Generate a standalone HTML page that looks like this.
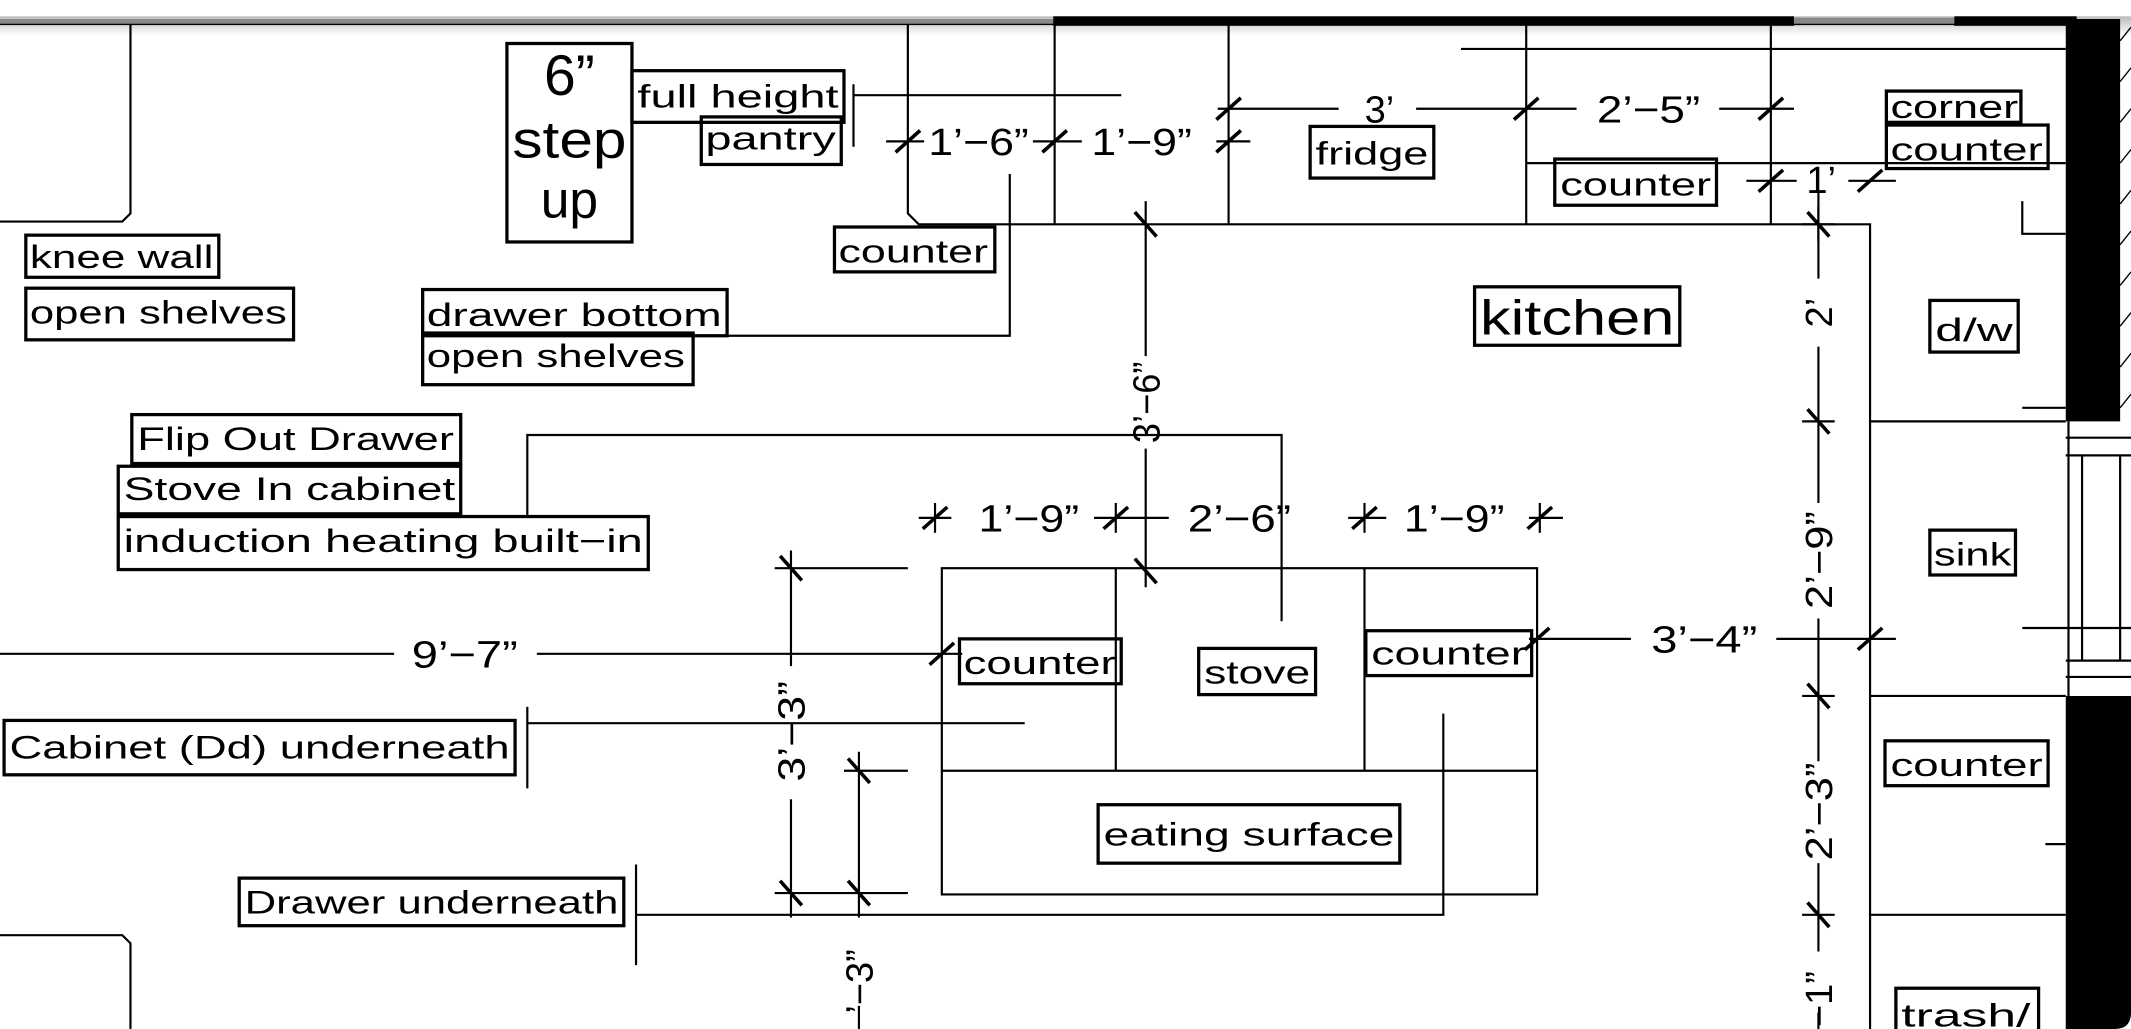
<!DOCTYPE html>
<html><head><meta charset="utf-8"><style>
html,body{margin:0;padding:0;background:#fff;overflow:hidden}
svg{display:block}
text{font-family:"Liberation Sans",sans-serif;fill:#000}
</style></head><body>
<svg width="2131" height="1029" viewBox="0 0 1568 757" preserveAspectRatio="none" font-size="24">
<defs><linearGradient id="g" x1="0" y1="0" x2="0" y2="1"><stop offset="0" stop-color="#bbb"/><stop offset="1" stop-color="#fff"/></linearGradient></defs>
<rect x="0" y="0" width="1568" height="757" fill="#fff"/>
<rect x="0" y="12" width="1568" height="14" fill="url(#g)"/>
<rect x="0" y="14" width="776" height="4" fill="#888"/>
<rect x="775" y="12" width="545" height="7" fill="#000"/>
<rect x="1320" y="13" width="118" height="5" fill="#888"/>
<rect x="1438" y="12" width="90" height="7" fill="#000"/>
<g stroke="#000" stroke-width="1.6" fill="none">
<line x1="0" y1="18" x2="1520" y2="18" stroke-width="1"/>
<rect x="1520" y="14" width="40" height="296" fill="#000" stroke="none"/>
<path d="M1520 512 H1568 V745 Q1568 757 1556 757 H1520 Z" fill="#000" stroke="none"/>
<g stroke-width="1">
<line x1="1560" y1="30" x2="1568" y2="20"/><line x1="1560" y1="60" x2="1568" y2="50"/><line x1="1560" y1="90" x2="1568" y2="80"/><line x1="1560" y1="120" x2="1568" y2="110"/><line x1="1560" y1="150" x2="1568" y2="140"/><line x1="1560" y1="180" x2="1568" y2="170"/><line x1="1560" y1="210" x2="1568" y2="200"/><line x1="1560" y1="240" x2="1568" y2="230"/><line x1="1560" y1="270" x2="1568" y2="260"/><line x1="1560" y1="300" x2="1568" y2="290"/>
</g>
<line x1="1522" y1="310" x2="1522" y2="512"/>
<line x1="1520" y1="322" x2="1568" y2="322"/><line x1="1520" y1="335" x2="1568" y2="335"/>
<line x1="1520" y1="486" x2="1568" y2="486"/><line x1="1520" y1="498" x2="1568" y2="498"/>
<line x1="1532" y1="335" x2="1532" y2="486"/><line x1="1560" y1="335" x2="1560" y2="486"/>
<path d="M0 163 H90 L96 157 V18"/>
<path d="M0 688 H90 L96 694 V757"/>
<path d="M668 18 V157 L676 165 H1376 V757"/>
<line x1="776" y1="18" x2="776" y2="165"/>
<line x1="904" y1="18" x2="904" y2="165"/>
<line x1="1123" y1="18" x2="1123" y2="165"/>
<line x1="1303" y1="18" x2="1303" y2="165"/>
<line x1="1075" y1="36" x2="1520" y2="36"/>
<line x1="1123" y1="120" x2="1520" y2="120"/>
<path d="M1488 148 V172 H1520"/>
<line x1="1376" y1="310" x2="1520" y2="310"/>
<line x1="1376" y1="512" x2="1520" y2="512"/>
<line x1="1376" y1="673" x2="1520" y2="673"/>
<line x1="1488" y1="300" x2="1520" y2="300"/>
<line x1="1488" y1="462" x2="1568" y2="462"/>
<line x1="1505" y1="621" x2="1520" y2="621"/>
<line x1="628" y1="70" x2="825" y2="70"/>
<line x1="628" y1="62" x2="628" y2="108"/>
<line x1="896" y1="80" x2="985" y2="80"/><line x1="1042" y1="80" x2="1160" y2="80"/><line x1="1265" y1="80" x2="1320" y2="80"/>
<line x1="652" y1="104" x2="680" y2="104"/><line x1="760" y1="104" x2="796" y2="104"/><line x1="895" y1="104" x2="920" y2="104"/>
<line x1="1285" y1="133" x2="1322" y2="133"/><line x1="1360" y1="133" x2="1395" y2="133"/>
<path d="M535 247 H743 V128"/>
<line x1="843" y1="148" x2="843" y2="262"/><line x1="843" y1="330" x2="843" y2="432"/>
<path d="M388 380 V320 H943 V457"/>
<rect x="693" y="418" width="438" height="240"/>
<line x1="821" y1="418" x2="821" y2="567"/>
<line x1="1004" y1="418" x2="1004" y2="567"/>
<line x1="693" y1="567" x2="1131" y2="567"/>
<line x1="676" y1="381" x2="700" y2="381"/><line x1="805" y1="381" x2="860" y2="381"/><line x1="992" y1="381" x2="1020" y2="381"/><line x1="1125" y1="381" x2="1150" y2="381"/>
<line x1="0" y1="481" x2="290" y2="481"/><line x1="395" y1="481" x2="708" y2="481"/>
<line x1="1125" y1="470" x2="1200" y2="470"/><line x1="1307" y1="470" x2="1395" y2="470"/>
<line x1="1338" y1="140" x2="1338" y2="205"/><line x1="1338" y1="255" x2="1338" y2="370"/><line x1="1338" y1="455" x2="1338" y2="560"/><line x1="1338" y1="635" x2="1338" y2="700"/><line x1="1338" y1="745" x2="1338" y2="757"/>
<line x1="570" y1="418" x2="668" y2="418"/>
<line x1="570" y1="657" x2="668" y2="657"/>
<line x1="582" y1="405" x2="582" y2="490"/><line x1="582" y1="588" x2="582" y2="675"/>
<line x1="621" y1="567" x2="668" y2="567"/>
<line x1="632" y1="553" x2="632" y2="675"/><line x1="632" y1="740" x2="632" y2="757"/>
<line x1="388" y1="520" x2="388" y2="580"/><line x1="388" y1="532" x2="754" y2="532"/>
<line x1="468" y1="636" x2="468" y2="710"/><path d="M468 673 H1062 V525"/>
</g>
<g stroke="#000" stroke-width="2.6">
<line x1="895" y1="88" x2="913" y2="72"/><line x1="1114" y1="88" x2="1132" y2="72"/><line x1="1294" y1="88" x2="1312" y2="72"/>
<line x1="659" y1="112" x2="677" y2="96"/><line x1="767" y1="112" x2="785" y2="96"/><line x1="895" y1="112" x2="913" y2="96"/>
<line x1="1294" y1="141" x2="1312" y2="125"/><line x1="1367" y1="141" x2="1385" y2="125"/>
<line x1="835" y1="156" x2="851" y2="174"/><line x1="835" y1="411" x2="851" y2="429"/>
<line x1="679" y1="389" x2="697" y2="373"/><line x1="812" y1="389" x2="830" y2="373"/><line x1="995" y1="389" x2="1013" y2="373"/><line x1="1124" y1="389" x2="1142" y2="373"/>
<line x1="684" y1="489" x2="702" y2="473"/>
<line x1="1122" y1="478" x2="1140" y2="462"/><line x1="1367" y1="478" x2="1385" y2="462"/>
<line x1="1330" y1="156" x2="1346" y2="174"/><line x1="1330" y1="301" x2="1346" y2="319"/><line x1="1330" y1="503" x2="1346" y2="521"/><line x1="1330" y1="664" x2="1346" y2="682"/>
<line x1="574" y1="409" x2="590" y2="427"/><line x1="574" y1="648" x2="590" y2="666"/>
<line x1="624" y1="558" x2="640" y2="576"/><line x1="624" y1="648" x2="640" y2="666"/>
</g>
<g stroke="#000" stroke-width="1.6">
<line x1="1338" y1="152" x2="1338" y2="178"/>
<line x1="1326" y1="165" x2="1350" y2="165"/>
<line x1="1326" y1="310" x2="1350" y2="310"/>
<line x1="1326" y1="512" x2="1350" y2="512"/>
<line x1="1326" y1="673" x2="1350" y2="673"/>
<line x1="688" y1="370" x2="688" y2="392"/>
<line x1="821" y1="370" x2="821" y2="392"/>
<line x1="1004" y1="370" x2="1004" y2="392"/>
<line x1="1133" y1="370" x2="1133" y2="392"/>
</g>
<g stroke="#000" stroke-width="2.4" fill="none">
<rect x="373" y="32" width="92" height="146"/>
<rect x="465" y="52" width="156" height="38"/>
<rect x="516" y="86" width="103" height="35"/>
<rect x="614" y="167" width="118" height="33"/>
<rect x="964" y="93" width="91" height="38"/>
<rect x="1144" y="117" width="119" height="34"/>
<rect x="1388" y="67" width="99" height="23"/>
<rect x="1388" y="92" width="119" height="32"/>
<rect x="1085" y="211" width="151" height="43"/>
<rect x="1420" y="221" width="65" height="38"/>
<rect x="1420" y="390" width="63" height="33"/>
<rect x="1387" y="545" width="120" height="33"/>
<rect x="1395" y="727" width="105" height="34"/>
<rect x="19" y="173" width="142" height="31"/>
<rect x="19" y="212" width="197" height="38"/>
<rect x="311" y="213" width="224" height="34"/>
<rect x="311" y="245" width="199" height="38"/>
<rect x="97" y="305" width="242" height="36"/>
<rect x="87" y="343" width="252" height="35"/>
<rect x="87" y="380" width="390" height="39"/>
<rect x="3" y="530" width="376" height="40"/>
<rect x="176" y="646" width="283" height="35"/>
<rect x="706" y="470" width="119" height="33"/>
<rect x="882" y="477" width="86" height="34"/>
<rect x="1005" y="464" width="122" height="33"/>
<rect x="808" y="592" width="222" height="43"/>
</g>
<text x="419" y="70" text-anchor="middle" font-size="42">6”</text>
<text x="419" y="116" text-anchor="middle" font-size="38" textLength="84" lengthAdjust="spacingAndGlyphs">step</text>
<text x="419" y="160" text-anchor="middle" font-size="38">up</text>
<text x="469" y="79" textLength="148" lengthAdjust="spacingAndGlyphs">full height</text>
<text x="519" y="110" textLength="96" lengthAdjust="spacingAndGlyphs">pantry</text>
<text x="617" y="193" textLength="110" lengthAdjust="spacingAndGlyphs">counter</text>
<text x="968" y="121" textLength="83" lengthAdjust="spacingAndGlyphs">fridge</text>
<text x="1148" y="144" textLength="111" lengthAdjust="spacingAndGlyphs">counter</text>
<text x="1391" y="87" textLength="94" lengthAdjust="spacingAndGlyphs">corner</text>
<text x="1391" y="118" textLength="112" lengthAdjust="spacingAndGlyphs">counter</text>
<text x="1089" y="246" font-size="36" textLength="143" lengthAdjust="spacingAndGlyphs">kitchen</text>
<text x="1424" y="251" textLength="57" lengthAdjust="spacingAndGlyphs">d/w</text>
<text x="1423" y="416" textLength="57" lengthAdjust="spacingAndGlyphs">sink</text>
<text x="1391" y="571" textLength="112" lengthAdjust="spacingAndGlyphs">counter</text>
<text x="1399" y="755" textLength="95" lengthAdjust="spacingAndGlyphs">trash/</text>
<text x="22" y="197" textLength="135" lengthAdjust="spacingAndGlyphs">knee wall</text>
<text x="22" y="238" textLength="189" lengthAdjust="spacingAndGlyphs">open shelves</text>
<text x="314" y="240" textLength="217" lengthAdjust="spacingAndGlyphs">drawer bottom</text>
<text x="314" y="270" textLength="190" lengthAdjust="spacingAndGlyphs">open shelves</text>
<text x="101" y="331" textLength="233" lengthAdjust="spacingAndGlyphs">Flip Out Drawer</text>
<text x="91" y="368" textLength="244" lengthAdjust="spacingAndGlyphs">Stove In cabinet</text>
<text x="91" y="406" textLength="382" lengthAdjust="spacingAndGlyphs">induction heating built−in</text>
<text x="7" y="558" textLength="368" lengthAdjust="spacingAndGlyphs">Cabinet (Dd) underneath</text>
<text x="180" y="672" textLength="275" lengthAdjust="spacingAndGlyphs">Drawer underneath</text>
<text x="709" y="496" textLength="112" lengthAdjust="spacingAndGlyphs">counter</text>
<text x="886" y="503" textLength="78" lengthAdjust="spacingAndGlyphs">stove</text>
<text x="1009" y="489" textLength="114" lengthAdjust="spacingAndGlyphs">counter</text>
<text x="812" y="622" textLength="214" lengthAdjust="spacingAndGlyphs">eating surface</text>
<g font-size="28">
<text x="1015" y="90" text-anchor="middle">3’</text>
<text x="1213" y="90" text-anchor="middle" textLength="76" lengthAdjust="spacingAndGlyphs">2’−5”</text>
<text x="720" y="114" text-anchor="middle" textLength="74" lengthAdjust="spacingAndGlyphs">1’−6”</text>
<text x="840" y="114" text-anchor="middle" textLength="74" lengthAdjust="spacingAndGlyphs">1’−9”</text>
<text x="1340" y="142" text-anchor="middle">1’</text>
<text x="757" y="391" text-anchor="middle" textLength="74" lengthAdjust="spacingAndGlyphs">1’−9”</text>
<text x="912" y="391" text-anchor="middle" textLength="76" lengthAdjust="spacingAndGlyphs">2’−6”</text>
<text x="1070" y="391" text-anchor="middle" textLength="74" lengthAdjust="spacingAndGlyphs">1’−9”</text>
<text x="342" y="491" text-anchor="middle" textLength="78" lengthAdjust="spacingAndGlyphs">9’−7”</text>
<text x="1254" y="480" text-anchor="middle" textLength="78" lengthAdjust="spacingAndGlyphs">3’−4”</text>
<text transform="translate(853,296) rotate(-90)" text-anchor="middle" textLength="60" lengthAdjust="spacingAndGlyphs">3’−6”</text>
<text transform="translate(1348,230) rotate(-90)" text-anchor="middle">2’</text>
<text transform="translate(1348,412) rotate(-90)" text-anchor="middle" textLength="72" lengthAdjust="spacingAndGlyphs">2’−9”</text>
<text transform="translate(1348,597) rotate(-90)" text-anchor="middle" textLength="72" lengthAdjust="spacingAndGlyphs">2’−3”</text>
<text transform="translate(1348,735) rotate(-90)" text-anchor="middle">−1”</text>
<text transform="translate(592,538) rotate(-90)" text-anchor="middle" textLength="74" lengthAdjust="spacingAndGlyphs">3’−3”</text>
<text transform="translate(642,722) rotate(-90)" text-anchor="middle">’−3”</text>
</g>
</svg>
</body></html>
